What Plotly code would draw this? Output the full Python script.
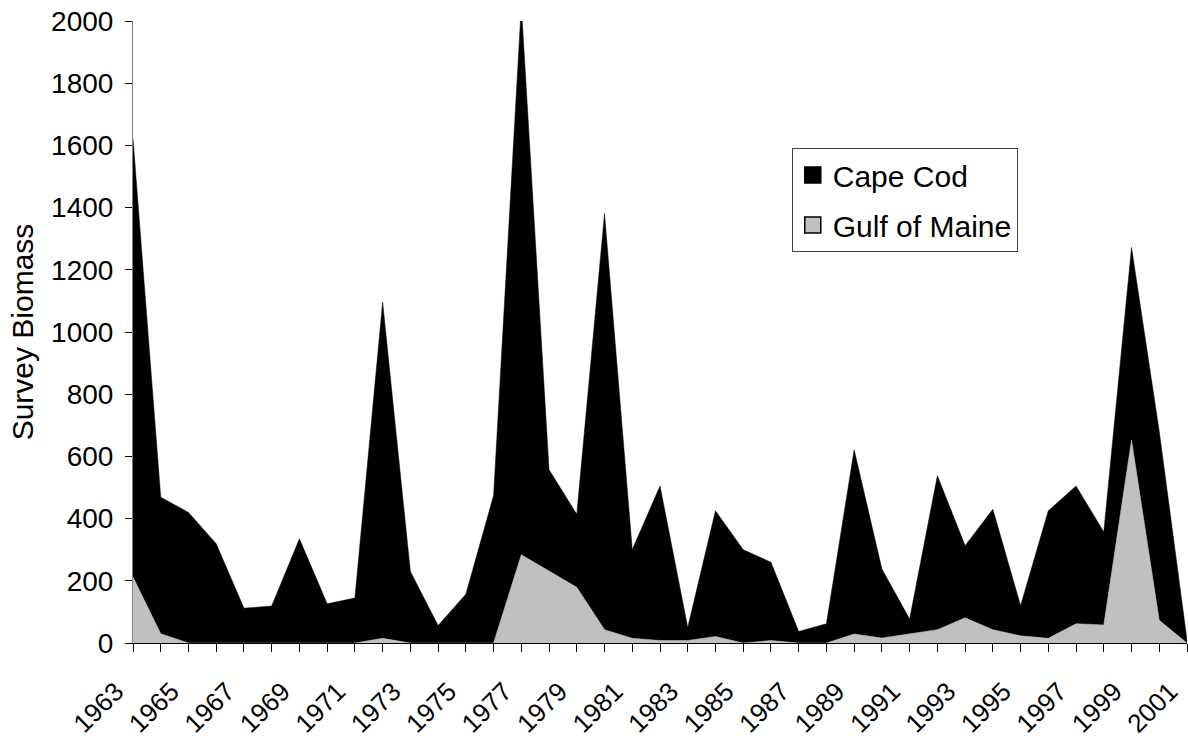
import plotly.graph_objects as go

years = list(range(1963, 2002))
gulf_of_maine = [212, 30, 0, 0, 0, 0, 0, 0, 0, 15,
                 0, 0, 0, 0, 284, 231, 179, 43, 15, 8,
                 8, 21, 0, 8, 0, 0, 29, 16, 30, 43,
                 81, 43, 23, 15, 62, 58, 653, 73, 0]
total = [1622, 469, 420, 319, 112, 119, 335, 126, 145, 1096,
         230, 56, 157, 474, 2050, 557, 414, 1381, 300, 505,
         50, 425, 300, 260, 37, 62, 621, 238, 77, 538,
         313, 430, 120, 425, 505, 357, 1272, 680, 10]
cape_cod = [t - g for t, g in zip(total, gulf_of_maine)]

tick_vals = years
tick_text = [str(y) if (y - 1963) % 2 == 0 else "" for y in years]

FONT = "Arial, Liberation Sans, sans-serif"

fig = go.Figure()
fig.add_trace(go.Scatter(
    x=years, y=gulf_of_maine, name="Gulf of Maine", stackgroup="one",
    mode="lines", line=dict(width=0.5, color="#c0c0c0"),
    fillcolor="#c0c0c0", showlegend=False, hoverinfo="x+y"))
fig.add_trace(go.Scatter(
    x=years, y=cape_cod, name="Cape Cod", stackgroup="one",
    mode="lines", line=dict(width=0.5, color="#000000"),
    fillcolor="#000000", showlegend=False, hoverinfo="x+y"))

# legend entries (square swatches like the original)
fig.add_trace(go.Scatter(
    x=[None], y=[None], name="Cape Cod", mode="markers", legendgroup="a",
    marker=dict(symbol="square", size=19, color="#000000",
                line=dict(color="#000000", width=1.5))))
fig.add_trace(go.Scatter(
    x=[None], y=[None], name="Gulf of Maine", mode="markers", legendgroup="b",
    marker=dict(symbol="square", size=19, color="#c0c0c0",
                line=dict(color="#000000", width=1.5))))

fig.update_layout(
    width=1188, height=742,
    margin=dict(l=133, r=1, t=21, b=99, autoexpand=False),
    paper_bgcolor="white", plot_bgcolor="white",
    font=dict(family=FONT, color="black", size=28),
    showlegend=True,
    legend=dict(
        x=0.625, y=0.796, xanchor="left", yanchor="top",
        traceorder="grouped", tracegroupgap=8,
        bgcolor="white", bordercolor="#404040", borderwidth=1,
        font=dict(size=30, family=FONT),
    ),
    xaxis=dict(
        range=[1962.9999, 2001.0001],
        tickmode="array", tickvals=tick_vals, ticktext=tick_text,
        tickangle=-45,
        ticks="outside", ticklen=8, tickcolor="black", tickwidth=1,
        ticklabelstandoff=14, ticklabelshift=-17,
        showline=True, linecolor="black", linewidth=1,
        showgrid=False, zeroline=False, automargin=False,
        tickfont=dict(size=26),
    ),
    yaxis=dict(
        range=[0, 2000], dtick=200,
        ticks="outside", ticklen=7, tickcolor="black", tickwidth=1,
        ticklabelstandoff=6,
        showline=True, linecolor="#808080", linewidth=1,
        showgrid=False, zeroline=False, automargin=False,
        title=dict(text="Survey Biomass", font=dict(size=30), standoff=8),
        tickfont=dict(size=28),
    ),
)

fig.write_html("out.html", config={"displayModeBar": False},
               post_script="document.body.style.margin='0';document.body.style.overflow='hidden';")
